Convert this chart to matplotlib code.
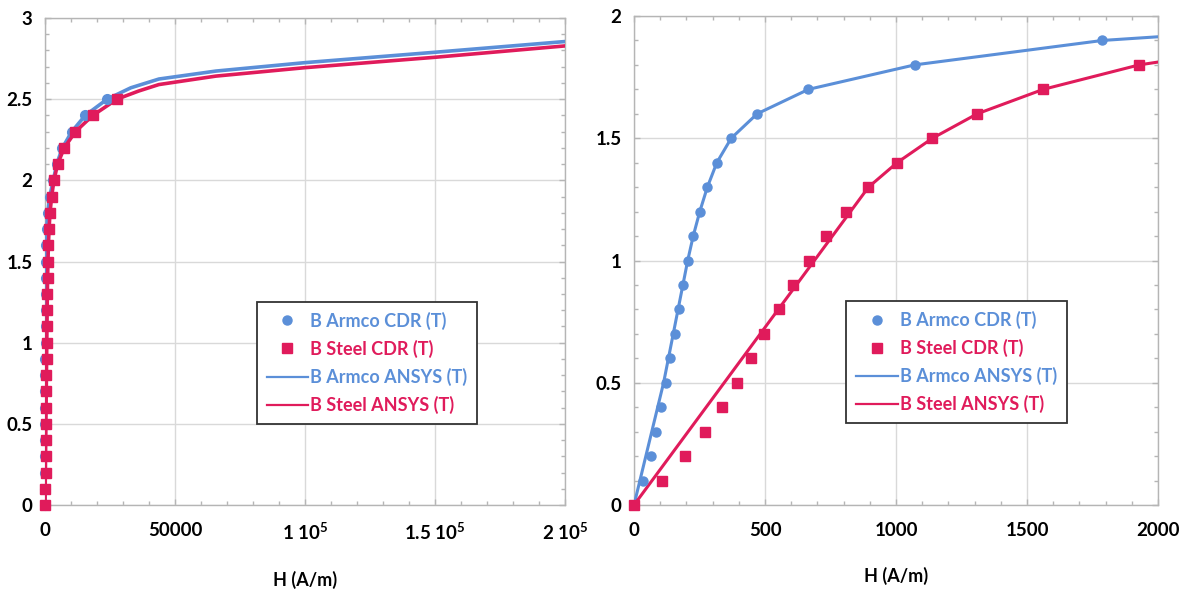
import matplotlib
matplotlib.use("Agg")
import matplotlib.pyplot as plt
from matplotlib.lines import Line2D
from matplotlib.ticker import MultipleLocator, FixedLocator, FixedFormatter

plt.rcParams['font.family'] = ['Lato', 'DejaVu Sans']
plt.rcParams['font.weight'] = 'bold'
plt.rcParams['mathtext.fontset'] = 'custom'
plt.rcParams['mathtext.rm'] = 'Lato:bold'
plt.rcParams['mathtext.bf'] = 'Lato:bold'
plt.rcParams['mathtext.it'] = 'Lato:bold'

# ---- data ----
b_cdr = [0.0, 0.1, 0.2, 0.3, 0.4, 0.5, 0.6, 0.7, 0.8, 0.9, 1.0, 1.1, 1.2,
         1.3, 1.4, 1.5, 1.6, 1.7, 1.8, 1.9, 2.0, 2.1, 2.2, 2.3, 2.4, 2.5]
h_armco_cdr = [0, 36, 64, 84, 104, 122, 139, 155, 172, 188, 207, 226, 251,
               280, 316, 371, 470, 666, 1071, 1788, 3200, 4500, 6700, 10300,
               15500, 23900]
h_steel_cdr = [0, 106, 195, 270, 337, 392, 445, 496, 552, 607, 668, 733, 808,
               895, 1004, 1139, 1310, 1562, 1928, 2550, 3450, 4850, 7400,
               11700, 18400, 27700]

b_armco_ansys = [0.0, 0.5, 1.0, 1.1, 1.2, 1.3, 1.4, 1.5, 1.6, 1.7, 1.8, 1.9,
                 2.0, 2.1, 2.2, 2.3, 2.4, 2.5, 2.57, 2.624, 2.673, 2.725,
                 2.789, 2.855]
h_armco_ansys = [0, 113, 205, 226, 251, 280, 316, 371, 470, 666, 1071, 1788,
                 3200, 4500, 6700, 10300, 15500, 23900, 33000, 43800, 65700,
                 100000, 150000, 200000]

b_steel_ansys = [0.0, 1.3, 1.4, 1.5, 1.6, 1.7, 1.8, 1.9, 2.0, 2.1, 2.2, 2.3,
                 2.4, 2.5, 2.55, 2.59, 2.642, 2.694, 2.758, 2.828]
h_steel_ansys = [0, 895, 1004, 1139, 1310, 1562, 1928, 2550, 3450, 4850, 7400,
                 11700, 18400, 27700, 36000, 43800, 65700, 100000, 150000,
                 200000]

labels = ["B Armco CDR (T)", "B Steel CDR (T)", "B Armco ANSYS (T)", "B Steel ANSYS (T)"]

left_xticks = [0, 50000, 100000, 150000, 200000]
left_xticklabels = ["0", "50000", r"1 10$^{5}$", r"1.5 10$^{5}$", r"2 10$^{5}$"]
left_yticks = [0, 0.5, 1, 1.5, 2, 2.5, 3]
left_yticklabels = ["0", "0.5", "1", "1.5", "2", "2.5", "3"]
right_xticks = [0, 500, 1000, 1500, 2000]
right_xticklabels = ["0", "500", "1000", "1500", "2000"]
right_yticks = [0, 0.5, 1, 1.5, 2]
right_yticklabels = ["0", "0.5", "1", "1.5", "2"]

BLUE = '#5B8FD8'
RED = '#E01B5B'

fig = plt.figure(figsize=(11.84, 5.90), dpi=100)
axL = fig.add_axes([45/1184, 1-505/590, 520/1184, 487/590])
axR = fig.add_axes([634/1184, 1-505/590, 524/1184, 489/590])


def style(ax, xlim, ylim, xt, xtl, yt, ytl, xminor, yminor):
    ax.set_xlim(*xlim)
    ax.set_ylim(*ylim)
    ax.xaxis.set_major_locator(FixedLocator(xt))
    ax.xaxis.set_major_formatter(FixedFormatter(xtl))
    ax.yaxis.set_major_locator(FixedLocator(yt))
    ax.yaxis.set_major_formatter(FixedFormatter(ytl))
    ax.xaxis.set_minor_locator(MultipleLocator(xminor))
    ax.yaxis.set_minor_locator(MultipleLocator(yminor))
    ax.grid(True, which='major', color='#d9d9d9', lw=1.0)
    ax.set_axisbelow(True)
    for s in ax.spines.values():
        s.set_color('#b5b5b5')
        s.set_linewidth(1.0)
    ax.tick_params(which='both', direction='in', top=True, right=True,
                   color='#b5b5b5')
    ax.tick_params(which='major', length=4, width=1)
    ax.tick_params(which='minor', length=3, width=1)
    ax.tick_params(axis='x', which='major', pad=12, labelsize=13.5)
    ax.tick_params(axis='y', which='major', pad=9, labelsize=13.5)
    for t in ax.get_xticklabels() + ax.get_yticklabels():
        t.set_fontweight('bold')
    ax.set_xlabel("H (A/m)", fontsize=13, fontweight='bold', labelpad=20)


def legend(ax, cx, cy):
    handles = [
        Line2D([], [], ls='none', marker='o', ms=6.5, color=BLUE),
        Line2D([], [], ls='none', marker='s', ms=6.5, color=RED),
        Line2D([], [], color=BLUE, lw=1.6),
        Line2D([], [], color=RED, lw=1.6),
    ]
    leg = ax.legend(handles, labels, loc='center', bbox_to_anchor=(cx, cy),
                    fancybox=False, framealpha=1, edgecolor='#333333',
                    prop={'weight': 'bold', 'size': 13}, handlelength=2.3,
                    handletextpad=0.1, labelspacing=0.55, borderpad=0.55,
                    borderaxespad=0)
    leg.get_frame().set_linewidth(1.3)
    for txt, c in zip(leg.get_texts(), [BLUE, RED, BLUE, RED]):
        txt.set_color(c)


# left panel
axL.plot(h_armco_ansys, b_armco_ansys, color=BLUE, lw=2.6, zorder=3)
axL.plot(h_steel_ansys, b_steel_ansys, color=RED, lw=2.6, zorder=3)
axL.plot(h_armco_cdr, b_cdr, ls='none', marker='o', ms=7, color=BLUE,
         zorder=4, clip_on=False)
axL.plot(h_steel_cdr, b_cdr, ls='none', marker='s', ms=7.5, color=RED,
         zorder=5, clip_on=False)
style(axL, (0, 200000), (0, 3), left_xticks, left_xticklabels,
      left_yticks, left_yticklabels, 10000, 0.1)
legend(axL, 0.619, 0.292)

# right panel
axR.plot(h_armco_ansys, b_armco_ansys, color=BLUE, lw=2.2, zorder=3)
axR.plot(h_steel_ansys, b_steel_ansys, color=RED, lw=2.2, zorder=3)
axR.plot(h_armco_cdr, b_cdr, ls='none', marker='o', ms=6.5, color=BLUE,
         zorder=4, clip_on=False)
axR.plot(h_steel_cdr, b_cdr, ls='none', marker='s', ms=7, color=RED,
         zorder=5, clip_on=False)
axR.set_xlim(0, 2000)
axR.set_ylim(0, 2)
# hide markers beyond axes for the unclipped series
for line in axR.lines[2:]:
    xs, ys = line.get_data()
    keep = [(x, y) for x, y in zip(xs, ys) if x <= 2000 and y <= 2]
    line.set_data([k[0] for k in keep], [k[1] for k in keep])
style(axR, (0, 2000), (0, 2), right_xticks, right_xticklabels,
      right_yticks, right_yticklabels, 100, 0.1)
legend(axR, 0.6155, 0.292)

fig.savefig("out.png", dpi=100)
